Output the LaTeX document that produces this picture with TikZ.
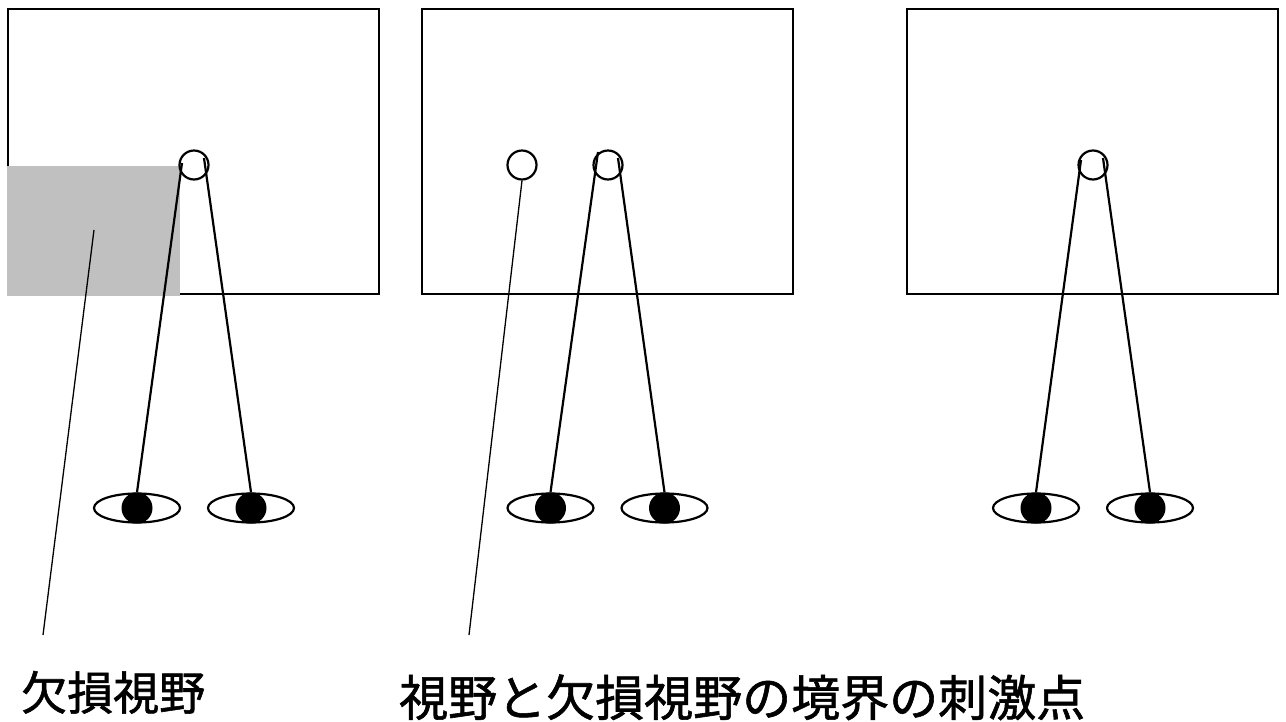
\documentclass[tikz,border=0pt]{standalone}
\usepackage{fontspec}
\newfontfamily\jpfont[FakeBold=1.2]{Noto Sans CJK JP}
\usetikzlibrary{shapes.geometric}
\tikzset{
  x=1pt, y=-1pt,
  frame/.style={draw=black, line width=2.2pt},
  stim/.style={circle, draw=black, line width=2.2pt, minimum size=29pt, inner sep=0pt},
  eyelid/.style={ellipse, draw=black, line width=2.2pt, minimum width=86pt, minimum height=29pt, inner sep=0pt},
  pupil/.style={circle, fill=black, minimum size=31pt, inner sep=0pt},
  ray/.style={draw=black, line width=2.2pt},
  pointer/.style={draw=black, line width=1.3pt},
  lbl/.style={anchor=base west, inner sep=0pt, font=\jpfont},
}
\definecolor{defect}{RGB}{192,192,192}
\begin{document}
\begin{tikzpicture}
\useasboundingbox (0,0) rectangle (1286,721);
% frames
\draw[frame] (8,9) rectangle (379,294);
\draw[frame] (422,9) rectangle (793,294);
\draw[frame] (907,9) rectangle (1278,294);
% defect area
\fill[defect] (6.5,166) rectangle (180,296);
% stimuli
\node[stim] (s1) at (194,165) {};
\node[stim] (s2a) at (522,165) {};
\node[stim] (s2b) at (608,165) {};
\node[stim] (s3) at (1093,165) {};
% eyes
\foreach \n/\x in {e1l/137, e1r/251, e2l/550.5, e2r/664.5, e3l/1036, e3r/1150}{
  \node[eyelid] (\n lid) at (\x,508) {};
  \node[pupil] (\n) at (\x,508) {};
}
% ray end points inside stimuli
\coordinate (t1l) at (182,163);
\coordinate (t1r) at (204,158);
\coordinate (t2l) at (598,152);
\coordinate (t2r) at (618,158);
\coordinate (t3l) at (1081,160);
\coordinate (t3r) at (1103,158);
\draw[ray] (e1l.north) -- (t1l);
\draw[ray] (e1r.north) -- (t1r);
\draw[ray] (e2l.north) -- (t2l);
\draw[ray] (e2r.north) -- (t2r);
\draw[ray] (e3l.north) -- (t3l);
\draw[ray] (e3r.north) -- (t3r);
% pointers
\coordinate (p1top) at (94,230);
\coordinate (p1bot) at (43,635);
\coordinate (p2bot) at (469,635);
\draw[pointer] (p1top) -- (p1bot);
\draw[pointer] (s2a.south) -- (p2bot);
% labels
\node[lbl, font=\jpfont\fontsize{46}{50}\selectfont] (l1) at (21,710) {欠損視野};
\node[lbl, font=\jpfont\fontsize{49}{52}\selectfont] (l2) at (399,716) {視野と欠損視野の境界の刺激点};
\end{tikzpicture}
\end{document}
